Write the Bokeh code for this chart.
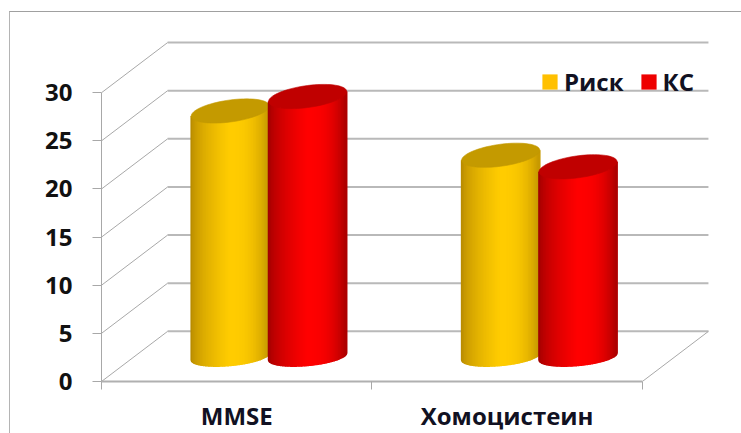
from bokeh.plotting import figure
from bokeh.models import FixedTicker, Legend, LegendItem, ColumnDataSource
from bokeh.embed import file_html
from bokeh.resources import INLINE
import math

categories = ["MMSE", "Хомоцистеин"]
risk = [25.5, 20.9]
ks = [27.0, 19.7]
series_names = ["Риск", "КС"]
y_ticks = [0, 5, 10, 15, 20, 25, 30]

PX_X = 270.0   # pixels per category
PX_Y = 9.6     # pixels per unit
DEPTH_X = 66 / PX_X
DEPTH_Y = 50 / PX_Y
FONT = "Open Sans"
GRID = "#b9b9b9"

p = figure(width=732, height=422, output_backend="svg", toolbar_location=None,
           x_range=(0, (741 - 101) / PX_X), y_range=(0, (380 - 12) / PX_Y),
           min_border_left=91, min_border_right=0, min_border_top=0, min_border_bottom=53,
           outline_line_color=None, background_fill_color="white")
p.margin = (11, 0, 0, 9)
p.styles = {"border-top": "1px solid #a0a0a0", "border-left": "1px solid #b4b4b4"}
p.xgrid.visible = False
p.ygrid.visible = False

# back wall and side wall
n_cat = len(categories)
p.multi_line([[DEPTH_X, n_cat + DEPTH_X] for _ in y_ticks],
             [[v + DEPTH_Y, v + DEPTH_Y] for v in y_ticks], line_color=GRID, line_width=2)
p.multi_line([[0, DEPTH_X] for _ in y_ticks],
             [[v, v + DEPTH_Y] for v in y_ticks], line_color="#a8a8a8", line_width=1)
# floor
p.line([n_cat, n_cat + DEPTH_X], [0, DEPTH_Y], line_color="#a8a8a8", line_width=1)


def mix(c1, c2, t):
    return "#%02x%02x%02x" % tuple(round(a + (b - a) * t) for a, b in zip(c1, c2))


def shade(edge_l, mid, edge_r, u):
    # u runs 0..1 across the cylinder
    if u < 0.5:
        return mix(edge_l, mid, min(1, (u / 0.5) ** 0.55))
    return mix(mid, edge_r, min(1, ((u - 0.5) / 0.5) ** 2.6))


HALF = 39.0
TOP_B = 11.0
BASE_B = 9.0
TILT = 5.0 / HALF
BASE_TILT = 3.5 / HALF
STRIPS = 50


def lower(dx, b, tilt):
    return tilt * dx - b * math.sqrt(max(0, 1 - (dx / HALF) ** 2))


def cylinder(cat_x, value, edge_l, mid, edge_r, cap):
    cx = cat_x + DEPTH_X / 2
    base = DEPTH_Y / 2
    top = value + DEPTH_Y / 2
    xs, ys, cols = [], [], []
    for i in range(STRIPS):
        d0 = -HALF + 2 * HALF * i / STRIPS
        d1 = -HALF + 2 * HALF * (i + 1) / STRIPS
        sx, sy = [], []
        steps = [d0 + (d1 - d0) * k / 3 for k in range(4)]
        for d in steps:
            sx.append(cx + d / PX_X)
            sy.append(base + lower(d, BASE_B, BASE_TILT) / PX_Y)
        for d in reversed(steps):
            sx.append(cx + d / PX_X)
            sy.append(top + lower(d, TOP_B, TILT) / PX_Y)
        xs.append(sx)
        ys.append(sy)
        cols.append(shade(edge_l, mid, edge_r, (i + 0.5) / STRIPS))
    p.patches(xs, ys, fill_color=cols, line_color=cols, line_width=1.6)
    ex, ey = [], []
    for k in range(72):
        t = 2 * math.pi * k / 72
        d = HALF * math.cos(t)
        ex.append(cx + d / PX_X)
        ey.append(top + (TILT * d + TOP_B * math.sin(t)) / PX_Y)
    p.patch(ex, ey, fill_color=cap, line_color=cap, line_width=0.6)


GOLD = ((176, 132, 0), (255, 204, 0), (196, 150, 0))
RED = ((150, 0, 0), (255, 0, 0), (170, 0, 0))
OFFSET = 0.143
CENTER_SHIFT = -0.003
for i in range(n_cat):
    cylinder(i + 0.5 + CENTER_SHIFT - OFFSET, risk[i], *GOLD, "#c49a00")
    cylinder(i + 0.5 + CENTER_SHIFT + OFFSET, ks[i], *RED, "#c00000")

# axes
ya = p.yaxis[0]
ya.ticker = FixedTicker(ticks=y_ticks)
ya.bounds = (0, 30)
ya.axis_line_color = "#a8a8a8"
ya.major_tick_line_color = "#a8a8a8"
ya.major_tick_out = 9
ya.major_tick_in = 0
ya.minor_tick_line_color = None
ya.major_label_text_font = FONT
ya.major_label_text_font_style = "bold"
ya.major_label_text_font_size = "24px"
ya.major_label_text_color = "#111111"
ya.major_label_standoff = 20

xa = p.xaxis[0]
xa.ticker = FixedTicker(ticks=[i + 0.5 for i in range(n_cat)], minor_ticks=list(range(n_cat + 1)))
xa.major_label_overrides = {i + 0.5: c for i, c in enumerate(categories)}
xa.bounds = (0, n_cat)
xa.axis_line_color = "#b0b0b0"
xa.axis_line_width = 2
xa.major_tick_line_color = None
xa.major_tick_out = 0
xa.major_tick_in = 0
xa.minor_tick_line_color = "#a8a8a8"
xa.minor_tick_out = 8
xa.minor_tick_in = 0
xa.major_label_text_font = FONT
xa.major_label_text_font_style = "bold"
xa.major_label_text_font_size = "24px"
xa.major_label_text_color = "#111122"
xa.major_label_standoff = 9

# legend
empty = ColumnDataSource(dict(x=[float("nan")], y=[float("nan")]))
r1 = p.rect("x", "y", 1, 1, source=empty, fill_color="#ffc000", line_color=None)
r2 = p.rect("x", "y", 1, 1, source=empty, fill_color="#ee0000", line_color=None)
leg = Legend(items=[LegendItem(label=series_names[0], renderers=[r1]),
                    LegendItem(label=series_names[1], renderers=[r2])],
             orientation="horizontal", location=(439, 283),
             background_fill_alpha=0, border_line_color=None,
             glyph_width=19, glyph_height=19, label_standoff=5, spacing=15,
             padding=0, margin=0, label_height=15,
             label_text_font=FONT, label_text_font_style="bold",
             label_text_font_size="24px", label_text_color="#111122")
p.add_layout(leg)

open("out.html", "w").write(file_html(p, INLINE))
